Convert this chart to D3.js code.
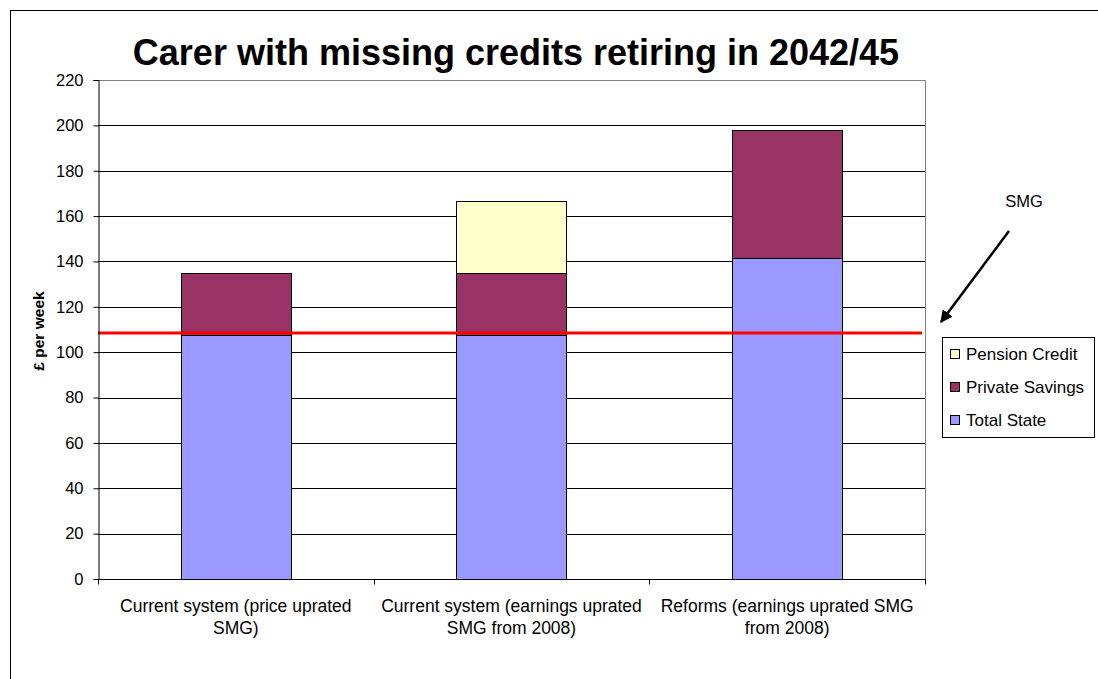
<!DOCTYPE html>
<html>
<head>
<meta charset="utf-8">
<script src="https://cdn.jsdelivr.net/npm/d3@7"></script>
<style>
  html, body { margin: 0; padding: 0; background: #fff; }
  svg { display: block; font-family: "Liberation Sans", Arial, sans-serif; }
</style>
</head>
<body>
<svg id="chart" width="1098" height="679"></svg>
<script>
// Categories (two-line axis labels)
const categories = [
  ["Current system (price uprated", "SMG)"],
  ["Current system (earnings uprated", "SMG from 2008)"],
  ["Reforms (earnings uprated SMG", "from 2008)"]
];
// Stacked series, £ per week
const seriesNames = ["Total State", "Private Savings", "Pension Credit"];
const totalState = [107.5, 107.5, 141.5];
const privateSavings = [27.5, 27.5, 56.5];
const pensionCredit = [0, 31.5, 0];
const seriesColors = ["#9999FF", "#993366", "#FFFFCC"];
// Standard minimum guarantee level
const smgLevel = 108.5;
const yTicks = [0, 20, 40, 60, 80, 100, 120, 140, 160, 180, 200, 220];

const svg = d3.select("#chart");

// Outer chart frame
svg.append("rect")
  .attr("x", 10.5).attr("y", 10.5)
  .attr("width", 1098).attr("height", 700)
  .attr("fill", "none").attr("stroke", "#000").attr("stroke-width", 1);

const plot = { left: 98, right: 925, top: 80, bottom: 579 };

const x = d3.scaleBand()
  .domain(d3.range(categories.length))
  .range([plot.left, plot.right])
  .paddingInner(0).paddingOuter(0);

const y = d3.scaleLinear().domain([0, 220]).range([plot.bottom, plot.top]);

// Title
svg.append("text")
  .attr("x", 516).attr("y", 65)
  .attr("text-anchor", "middle")
  .attr("font-size", 36).attr("font-weight", "bold")
  .text("Carer with missing credits retiring in 2042/45");

// Horizontal gridlines
svg.append("g")
  .selectAll("line")
  .data(yTicks.filter(t => t > 0 && t < 220))
  .join("line")
  .attr("x1", plot.left).attr("x2", plot.right)
  .attr("y1", d => Math.round(y(d)) + 0.5).attr("y2", d => Math.round(y(d)) + 0.5)
  .attr("stroke", "#000").attr("stroke-width", 1);

// Plot area border (top and right)
svg.append("path")
  .attr("d", `M${plot.left},${plot.top + 0.5}H${plot.right + 0.5}V${plot.bottom}`)
  .attr("fill", "none").attr("stroke", "#808080").attr("stroke-width", 1);

// Stacked bars
const rows = categories.map((c, i) => ({
  "Total State": totalState[i],
  "Private Savings": privateSavings[i],
  "Pension Credit": pensionCredit[i]
}));
const stack = d3.stack().keys(seriesNames)(rows);
const barW = x.bandwidth() * 0.4;

svg.append("g")
  .selectAll("g")
  .data(stack)
  .join("g")
  .attr("fill", (d, i) => seriesColors[i])
  .selectAll("rect")
  .data(d => d.map((v, i) => ({ v, i })).filter(e => e.v[1] - e.v[0] > 0))
  .join("rect")
  .attr("x", e => Math.round(x(e.i) + (x.bandwidth() - barW) / 2) + 0.5)
  .attr("width", Math.round(barW))
  .attr("y", e => Math.round(y(e.v[1])) + 0.5)
  .attr("height", e => Math.round(y(e.v[0])) - Math.round(y(e.v[1])))
  .attr("stroke", "#000").attr("stroke-width", 1);

// SMG line
svg.append("line")
  .attr("x1", plot.left).attr("x2", plot.right - 3)
  .attr("y1", y(smgLevel)).attr("y2", y(smgLevel))
  .attr("stroke", "#FF0000").attr("stroke-width", 3);

// Y axis
const yAxis = svg.append("g")
  .attr("transform", `translate(${plot.left + 0.5},0)`)
  .call(d3.axisLeft(y).tickValues(yTicks).tickSize(5).tickPadding(10));
yAxis.select(".domain").attr("stroke", "#000");
yAxis.selectAll(".tick line").attr("stroke", "#000");
yAxis.selectAll(".tick text")
  .attr("font-size", 16.5).attr("fill", "#000")
  .attr("font-family", "'Liberation Sans', Arial, sans-serif");

// X axis with ticks at category boundaries
const xAxisG = svg.append("g").attr("transform", `translate(0,${plot.bottom + 0.5})`);
xAxisG.append("line")
  .attr("x1", plot.left).attr("x2", plot.right + 1)
  .attr("stroke", "#000");
xAxisG.selectAll("line.tick")
  .data(d3.range(categories.length + 1))
  .join("line")
  .attr("class", "tick")
  .attr("x1", i => Math.round(plot.left + i * x.step()) + 0.5)
  .attr("x2", i => Math.round(plot.left + i * x.step()) + 0.5)
  .attr("y1", 0).attr("y2", 5)
  .attr("stroke", "#000");

// Category labels, one text element per line
const labelLines = categories.flatMap((lines, i) => lines.map((t, j) => ({ t, i, j })));
svg.append("g")
  .selectAll("text")
  .data(labelLines)
  .join("text")
  .attr("text-anchor", "middle")
  .attr("font-size", 17.5)
  .attr("x", d => x(d.i) + x.bandwidth() / 2)
  .attr("y", d => 612 + d.j * 22)
  .text(d => d.t);

// Y axis title
svg.append("text")
  .attr("transform", "translate(44,331) rotate(-90)")
  .attr("text-anchor", "middle")
  .attr("font-size", 15.5).attr("font-weight", "bold")
  .text("£ per week");

// SMG annotation with arrow
svg.append("defs").append("marker")
  .attr("id", "arrowhead")
  .attr("viewBox", "0 0 10 10")
  .attr("refX", 9).attr("refY", 5)
  .attr("markerWidth", 5).attr("markerHeight", 5)
  .attr("orient", "auto")
  .append("path").attr("d", "M0,0L10,5L0,10Z").attr("fill", "#000");

svg.append("line")
  .attr("x1", 1009).attr("y1", 231)
  .attr("x2", 941).attr("y2", 322)
  .attr("stroke", "#000").attr("stroke-width", 2.5)
  .attr("marker-end", "url(#arrowhead)");

svg.append("text")
  .attr("x", 1024).attr("y", 207)
  .attr("text-anchor", "middle")
  .attr("font-size", 16.5)
  .text("SMG");

// Legend (stack order, top series first)
const legend = svg.append("g");
legend.append("rect")
  .attr("x", 942.5).attr("y", 337.5)
  .attr("width", 152).attr("height", 100)
  .attr("fill", "#fff").attr("stroke", "#000");
const legendOrder = [2, 1, 0];
const li = legend.selectAll("g.item")
  .data(legendOrder)
  .join("g")
  .attr("class", "item")
  .attr("transform", (d, k) => `translate(0,${354 + k * 33})`);
li.append("rect")
  .attr("x", 950.5).attr("y", -4.5)
  .attr("width", 9).attr("height", 9)
  .attr("fill", d => seriesColors[d]).attr("stroke", "#000");
li.append("text")
  .attr("x", 966).attr("y", 6)
  .attr("font-size", 17)
  .text(d => seriesNames[d]);
</script>
</body>
</html>
